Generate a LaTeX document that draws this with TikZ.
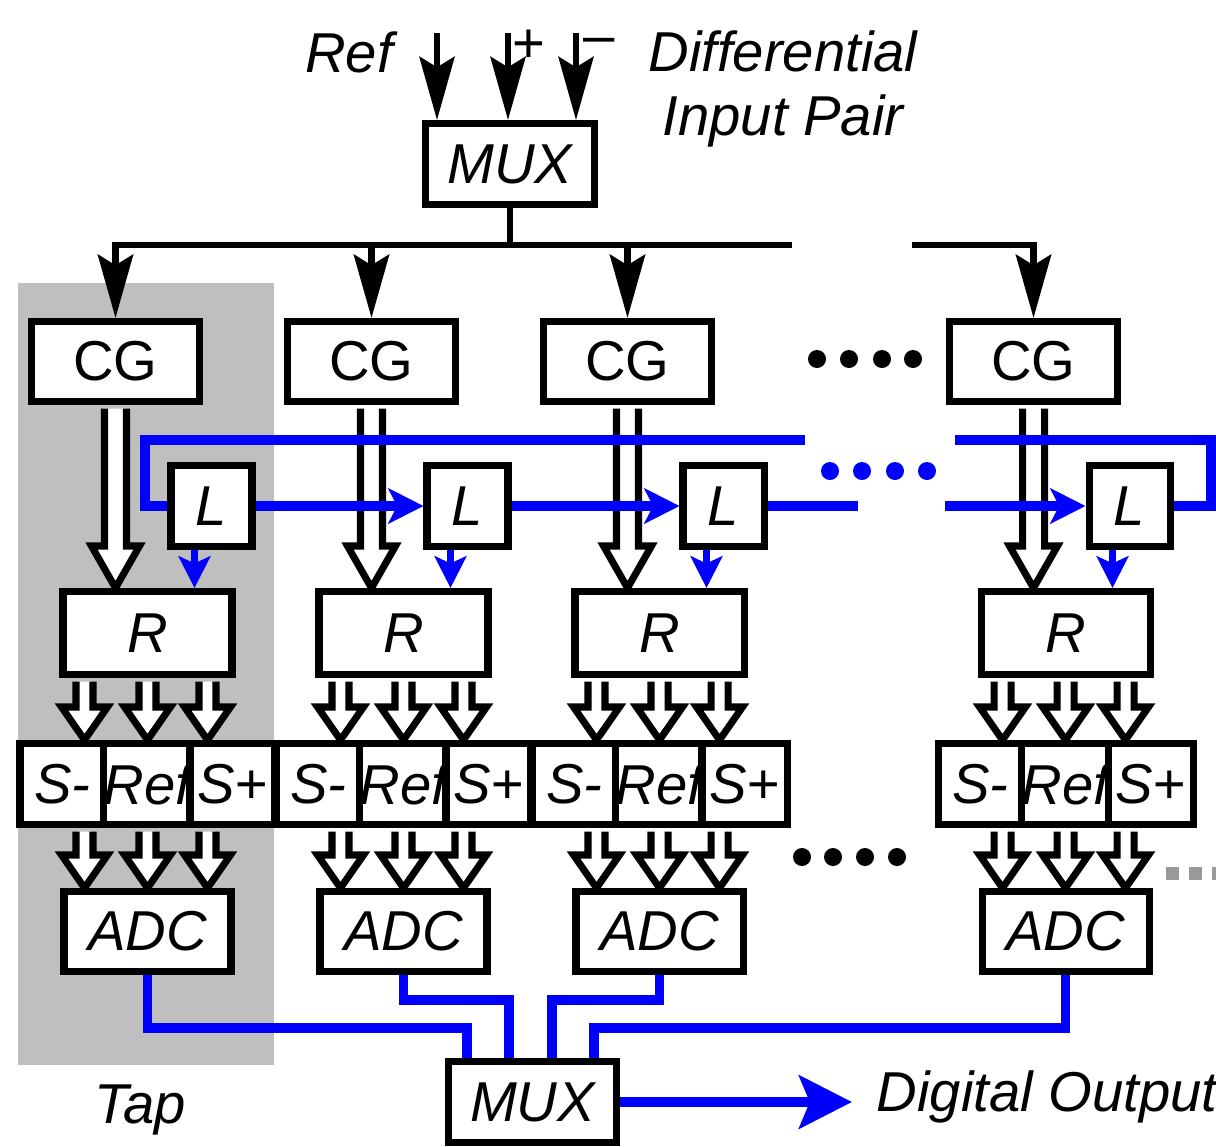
\documentclass[tikz,border=0pt]{standalone}
\usepackage{fontspec}
\setmainfont{Liberation Sans}
\usetikzlibrary{arrows.meta,calc}

\tikzset{
  box/.style={draw, fill=white, line width=2pt, inner sep=0pt,
    font=\fontsize{16}{18}\selectfont\itshape},
  lbl/.style={inner sep=0pt, font=\fontsize{16}{18}\selectfont\itshape},
  bus/.style={line width=1.9pt},
  intip/.style={-{Stealth[length=18pt,width=10pt,inset=3pt]}},
  wire/.style={blue, line width=2.8pt},
  hollow/.style={fill=white, draw=black, line width=2pt},
}

% hollow block arrow: start, end, shaft half width, head half width, head length
\newcommand{\hollowarrow}[5]{%
  \filldraw[hollow] let \p1=(#1), \p2=(#2) in
    (\x1-#3,\y1-1pt) -- (\x1-#3,\y2+#5) -- (\x1-#4,\y2+#5) -- (\x1,\y2)
    -- (\x1+#4,\y2+#5) -- (\x1+#3,\y2+#5) -- (\x1+#3,\y1-1pt);%
}

\begin{document}
\begin{tikzpicture}
    \useasboundingbox (0,0) rectangle (12.16,-11.46);
    % Tap background
    \fill[black!25] (0.18,-2.83) rectangle (2.74,-10.65);
    \node[lbl] (tap) at (1.40,-11.10) {Tap};

    % Input multiplexer
    \node[box, minimum width=1.69cm, minimum height=0.81cm] (mux) at (5.10,-1.64) {MUX};
    \coordinate (inref) at (4.37,-0.33);
    \coordinate (inplus) at (5.08,-0.33);
    \coordinate (inminus) at (5.76,-0.33);
    \draw[line width=1.5pt, intip] (inref) -- (inref |- mux.north);
    \draw[line width=1.5pt, intip] (inplus) -- (inplus |- mux.north);
    \draw[line width=1.5pt, intip] (inminus) -- (inminus |- mux.north);
    \node[lbl] (lref) at (3.49,-0.52) {Ref};
    \node[lbl, font=\fontsize{16}{18}\selectfont] (lplus) at (5.29,-0.46) {+};
    \node[lbl, font=\fontsize{16}{18}\selectfont] (lminus) at (5.99,-0.46) {--};
    \node[lbl, align=center] (ldiff) at (7.83,-0.89) {Differential\\Input Pair};

    % Taps
    \foreach \i/\x in {1/1.155,2/3.715,3/6.275,4/10.335} {
      \node[box, font=\fontsize{16}{18}\selectfont, minimum width=1.68cm, minimum height=0.80cm] (cg\i) at (\x,-3.615) {CG};
      \node[box, minimum width=0.81cm, minimum height=0.81cm] (l\i) at (\x+0.96,-5.06) {L};
      \node[box, minimum width=1.69cm, minimum height=0.83cm] (r\i) at (\x+0.32,-6.33) {R};
      \node[box, minimum width=0.85cm, minimum height=0.81cm] (sm\i) at (\x-0.53,-7.84) {S-};
      \node[box, minimum width=0.85cm, minimum height=0.81cm] (sr\i) at (\x+0.32,-7.84) {Ref};
      \node[box, minimum width=0.85cm, minimum height=0.81cm] (sp\i) at (\x+1.17,-7.84) {S+};
      \node[box, minimum width=1.67cm, minimum height=0.80cm] (adc\i) at (\x+0.32,-9.315) {ADC};
      % block arrows
      \hollowarrow{cg\i.south}{r\i.north}{0.11cm}{0.24cm}{0.42cm}
      \foreach \dx in {-0.63,0,0.6} {
        \hollowarrow{$(r\i.south)+(\dx,0)$}{sm\i.north}{0.085cm}{0.23cm}{0.33cm}
        \hollowarrow{$(r\i.south |- sm\i.south)+(\dx,0)$}{adc\i.north}{0.085cm}{0.23cm}{0.33cm}
      }
      % L to R
      \draw[wire, line width=2.2pt, -{Stealth[length=9pt,width=9pt,inset=2pt]}]
        ($(l\i.south)+(-0.17,0)$) -- ($(l\i.south |- r\i.north)+(-0.17,0)$);
    }

    % Broadcast bus
    \coordinate (busL) at (1.155,-2.45);
    \coordinate (busgapL) at (7.92,-2.45);
    \coordinate (busgapR) at (9.12,-2.45);
    \draw[bus] (mux.south) -- (mux.south |- busL);
    \draw[bus, intip] (busgapL) -| (cg1.north);
    \draw[bus, intip] (cg2.north |- busL) -- (cg2.north);
    \draw[bus, intip] (cg3.north |- busL) -- (cg3.north);
    \draw[bus, intip] (busgapR) -| (cg4.north);

    % L chain
    \coordinate (gapL) at (8.58,-5.06);
    \coordinate (gapR) at (9.45,-5.06);
    \draw[wire, -{Stealth[length=10pt,width=10pt,inset=2.5pt]}] (l1.east) -- (l2.west);
    \draw[wire, -{Stealth[length=10pt,width=10pt,inset=2.5pt]}] (l2.east) -- (l3.west);
    \draw[wire] (l3.east) -- (gapL);
    \draw[wire, -{Stealth[length=10pt,width=10pt,inset=2.5pt]}] (gapR) -- (l4.west);
    % Feedback loop
    \coordinate (loopTR) at (12.11,-4.40);
    \coordinate (loopTL) at (1.45,-4.40);
    \coordinate (topgapL) at (8.05,-4.40);
    \coordinate (topgapR) at (9.55,-4.40);
    \draw[wire] (l4.east) -| (loopTR) -- (topgapR);
    \draw[wire] (topgapL) -- (loopTL) |- (l1.west);

    % Dots
    \foreach \dx in {8.17,8.49,8.82,9.13} \fill (\dx,-3.59) circle (0.09);
    \foreach \dx in {8.30,8.62,8.95,9.27} \fill[blue] (\dx,-4.71) circle (0.09);
    \foreach \dx in {8.02,8.33,8.65,8.97} \fill (\dx,-8.57) circle (0.09);
    \draw[black!40, line width=0.13cm, dash pattern=on 0.13cm off 0.10cm] (11.66,-8.73) -- (12.16,-8.73);

    % Output multiplexer
    \node[box, minimum width=1.68cm, minimum height=0.81cm] (mux2) at (5.325,-11.02) {MUX};
    \coordinate (j1) at (4.67,-10.28);
    \coordinate (j2) at (5.09,-10.00);
    \coordinate (j3) at (5.52,-10.00);
    \coordinate (j4) at (5.94,-10.28);
    \draw[wire] (adc1.south) |- (j1) -- (j1 |- mux2.north);
    \draw[wire] (adc2.south) |- (j2) -- (j2 |- mux2.north);
    \draw[wire] (adc3.south) |- (j3) -- (j3 |- mux2.north);
    \draw[wire] (adc4.south) |- (j4) -- (j4 |- mux2.north);

    % Digital output
    \coordinate (outtip) at (8.52,-11.02);
    \draw[wire, line width=3pt, -{Stealth[length=15pt,width=15pt,inset=3pt]}] (mux2.east) -- (outtip);
    \node[lbl, anchor=west] (dout) at (8.76,-10.97) {Digital Output};
\end{tikzpicture}
\end{document}
